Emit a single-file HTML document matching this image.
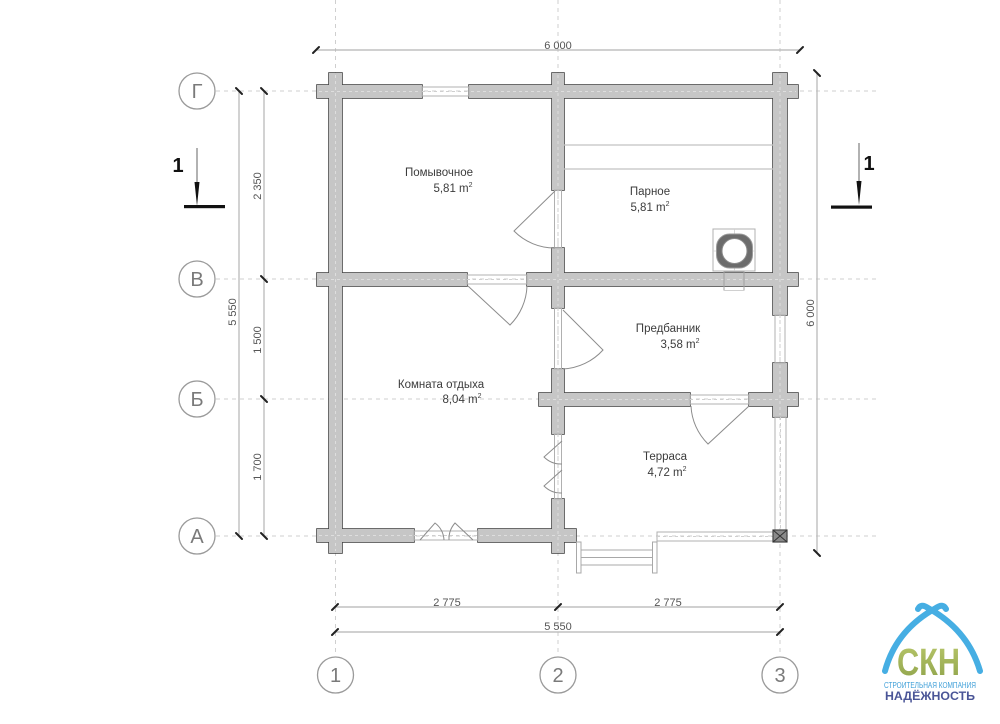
<!DOCTYPE html>
<html><head><meta charset="utf-8"><style>
html,body{margin:0;padding:0;background:#fff;}
svg{display:block;}
text{font-family:"Liberation Sans","DejaVu Sans",sans-serif;}
</style></head><body>
<svg width="1000" height="724" viewBox="0 0 1000 724" xmlns="http://www.w3.org/2000/svg">
<rect width="1000" height="724" fill="#fff"/>
<!-- axis dashed lines -->
<g stroke="#cfcfcf" stroke-width="1" stroke-dasharray="4 4" fill="none">
<line x1="216" y1="91" x2="880" y2="91"/>
<line x1="216" y1="279" x2="880" y2="279"/>
<line x1="216" y1="399" x2="880" y2="399"/>
<line x1="216" y1="536" x2="880" y2="536"/>
<line x1="335.5" y1="0" x2="335.5" y2="656"/>
<line x1="558" y1="0" x2="558" y2="656"/>
<line x1="780" y1="0" x2="780" y2="656"/>
</g>
<!-- dimension lines -->
<g stroke="#b5b5b5" stroke-width="1.2" fill="none">
<line x1="316" y1="50" x2="800" y2="50"/>
<line x1="817" y1="73" x2="817" y2="553"/>
<line x1="239" y1="91" x2="239" y2="536"/>
<line x1="264" y1="91" x2="264" y2="536"/>
<line x1="335" y1="607" x2="780" y2="607"/>
<line x1="335" y1="632" x2="780" y2="632"/>
</g>
<g stroke="#222" stroke-width="2" stroke-linecap="round">
<line x1="313" y1="53" x2="319" y2="47"/>
<line x1="797" y1="53" x2="803" y2="47"/>
<line x1="814" y1="70" x2="820" y2="76"/>
<line x1="814" y1="550" x2="820" y2="556"/>
<line x1="236" y1="88" x2="242" y2="94"/>
<line x1="236" y1="533" x2="242" y2="539"/>
<line x1="261" y1="88" x2="267" y2="94"/>
<line x1="261" y1="276" x2="267" y2="282"/>
<line x1="261" y1="396" x2="267" y2="402"/>
<line x1="261" y1="533" x2="267" y2="539"/>
<line x1="332" y1="610" x2="338" y2="604"/>
<line x1="555" y1="610" x2="561" y2="604"/>
<line x1="777" y1="610" x2="783" y2="604"/>
<line x1="332" y1="635" x2="338" y2="629"/>
<line x1="777" y1="635" x2="783" y2="629"/>
</g>
<g fill="#555" font-size="11" text-anchor="middle">
<text x="558" y="49">6 000</text>
<text x="447" y="606">2 775</text>
<text x="668" y="606">2 775</text>
<text x="558" y="630">5 550</text>
<text transform="translate(236,312) rotate(-90)" dominant-baseline="auto">5 550</text>
<text transform="translate(261,186) rotate(-90)">2 350</text>
<text transform="translate(261,340) rotate(-90)">1 500</text>
<text transform="translate(261,467) rotate(-90)">1 700</text>
<text transform="translate(814,313) rotate(-90)">6 000</text>
</g>
<!-- axis circles -->
<g fill="#fff" stroke="#9a9a9a" stroke-width="1.3">
<circle cx="197" cy="91" r="18"/>
<circle cx="197" cy="279" r="18"/>
<circle cx="197" cy="399" r="18"/>
<circle cx="197" cy="536" r="18"/>
<circle cx="335.5" cy="675" r="18"/>
<circle cx="558" cy="675" r="18"/>
<circle cx="780" cy="675" r="18"/>
</g>
<g fill="#7a7a7a" font-size="20" text-anchor="middle">
<text x="197" y="98">Г</text>
<text x="197" y="286">В</text>
<text x="197" y="406">Б</text>
<text x="197" y="543">А</text>
<text x="335.5" y="682">1</text>
<text x="558" y="682">2</text>
<text x="780" y="682">3</text>
</g>
<!-- section marks -->
<g stroke="#666" stroke-width="1">
<line x1="197" y1="148" x2="197" y2="200"/>
<line x1="859" y1="143" x2="859" y2="200"/>
</g>
<polygon points="194.5,182 199.5,182 197,206" fill="#111"/>
<polygon points="856.5,181 861.5,181 859,205" fill="#111"/>
<rect x="184" y="205" width="41" height="3.2" fill="#111"/>
<rect x="831" y="205.5" width="41" height="3.2" fill="#111"/>
<text x="178" y="172" font-size="20" font-weight="bold" fill="#111" text-anchor="middle">1</text>
<text x="869" y="170" font-size="20" font-weight="bold" fill="#111" text-anchor="middle">1</text>

<!-- walls: stroked pass -->
<g fill="#c6c6c6" stroke="#474747" stroke-width="1.6">
<rect x="317" y="85" width="105" height="13"/>
<rect x="469" y="85" width="329" height="13"/>
<rect x="317" y="273" width="150" height="13"/>
<rect x="527" y="273" width="271" height="13"/>
<rect x="539" y="393" width="151" height="13"/>
<rect x="749" y="393" width="49" height="13"/>
<rect x="317" y="529" width="97" height="13"/>
<rect x="478" y="529" width="98" height="13"/>
<rect x="329" y="73" width="13" height="480"/>
<rect x="552" y="73" width="12" height="117"/>
<rect x="552" y="248" width="12" height="60"/>
<rect x="552" y="369" width="12" height="65"/>
<rect x="552" y="499" width="12" height="54"/>
<rect x="773" y="73" width="14" height="242"/>
<rect x="773" y="363" width="14" height="54"/>
</g>
<!-- walls: fill pass to hide inner joints -->
<g fill="#c6c6c6">
<rect x="317" y="85" width="105" height="13"/>
<rect x="469" y="85" width="329" height="13"/>
<rect x="317" y="273" width="150" height="13"/>
<rect x="527" y="273" width="271" height="13"/>
<rect x="539" y="393" width="151" height="13"/>
<rect x="749" y="393" width="49" height="13"/>
<rect x="317" y="529" width="97" height="13"/>
<rect x="478" y="529" width="98" height="13"/>
<rect x="329" y="73" width="13" height="480"/>
<rect x="552" y="73" width="12" height="117"/>
<rect x="552" y="248" width="12" height="60"/>
<rect x="552" y="369" width="12" height="65"/>
<rect x="552" y="499" width="12" height="54"/>
<rect x="773" y="73" width="14" height="242"/>
<rect x="773" y="363" width="14" height="54"/>
</g>
<!-- wall centre dotted lines -->
<g stroke="#dedede" stroke-width="1" stroke-dasharray="3 3">
<line x1="319" y1="91.5" x2="420" y2="91.5"/>
<line x1="471" y1="91.5" x2="796" y2="91.5"/>
<line x1="319" y1="279.5" x2="465" y2="279.5"/>
<line x1="529" y1="279.5" x2="796" y2="279.5"/>
<line x1="541" y1="399.5" x2="688" y2="399.5"/>
<line x1="751" y1="399.5" x2="796" y2="399.5"/>
<line x1="319" y1="535.5" x2="412" y2="535.5"/>
<line x1="480" y1="535.5" x2="574" y2="535.5"/>
<line x1="335.5" y1="75" x2="335.5" y2="551"/>
<line x1="558" y1="75" x2="558" y2="188"/>
<line x1="558" y1="250" x2="558" y2="306"/>
<line x1="558" y1="371" x2="558" y2="432"/>
<line x1="558" y1="501" x2="558" y2="551"/>
<line x1="780" y1="75" x2="780" y2="313"/>
<line x1="780" y1="365" x2="780" y2="415"/>
</g>
<!-- openings frames -->
<g fill="none" stroke="#b0b0b0" stroke-width="1">
<rect x="422" y="87" width="47" height="9"/>
<rect x="554.5" y="190" width="7" height="58"/>
<rect x="467" y="275" width="60" height="9"/>
<rect x="554.5" y="308" width="7" height="61"/>
<rect x="690" y="395" width="59" height="9"/>
<rect x="554.5" y="434" width="7" height="65"/>
<rect x="414" y="531" width="64" height="9"/>
<rect x="775" y="315" width="10" height="48"/>
<rect x="775" y="417" width="11" height="113"/>
<rect x="657" y="532" width="116" height="9"/>
</g>
<g stroke="#cfcfcf" stroke-width="1" stroke-dasharray="3 3">
<line x1="422" y1="91.5" x2="469" y2="91.5"/>
<line x1="558" y1="190" x2="558" y2="248"/>
<line x1="467" y1="279.5" x2="527" y2="279.5"/>
<line x1="558" y1="308" x2="558" y2="369"/>
<line x1="690" y1="399.5" x2="749" y2="399.5"/>
<line x1="558" y1="434" x2="558" y2="499"/>
<line x1="414" y1="535.5" x2="478" y2="535.5"/>
<line x1="780" y1="315" x2="780" y2="363"/>
<line x1="780.5" y1="417" x2="780.5" y2="530"/>
<line x1="657" y1="536.5" x2="773" y2="536.5"/>
</g>
<!-- terrace post -->
<rect x="773" y="530" width="14" height="12" fill="#8a8a8a" stroke="#444" stroke-width="1.2"/>
<path d="M773 530 L787 542 M787 530 L773 542" stroke="#333" stroke-width="1"/>
<!-- steps -->
<g fill="none" stroke="#a8a8a8" stroke-width="1">
<rect x="576.5" y="542" width="4.5" height="31"/>
<rect x="652.5" y="542" width="4.5" height="31"/>
<line x1="581" y1="550" x2="652.5" y2="550"/>
<line x1="581" y1="557.5" x2="652.5" y2="557.5"/>
<line x1="581" y1="565" x2="652.5" y2="565"/>
</g>
<!-- bench lines -->
<g stroke="#c2c2c2" stroke-width="1.3">
<line x1="564" y1="145" x2="773" y2="145"/>
<line x1="564" y1="169" x2="773" y2="169"/>
</g>
<!-- doors -->
<g fill="none" stroke="#8c8c8c" stroke-width="1">
<path d="M555 191 L514 231 A57 57 0 0 0 555 248"/>
<path d="M468 286 L510 325 A58 58 0 0 0 527 286"/>
<path d="M563 310 L603 350 A58 58 0 0 1 563 369"/>
<path d="M749 406 L708 444 A57 57 0 0 1 691 406"/>
<path d="M562 441 L544 457 A24 24 0 0 0 562 464"/>
<path d="M562 470 L544 486 A24 24 0 0 0 562 493"/>
<path d="M420 540 L435 523 A23 23 0 0 1 444 540"/>
<path d="M473 540 L455 523 A24 24 0 0 0 449 540"/>
</g>
<!-- stove & chimney -->
<rect x="713" y="229" width="42" height="42" fill="none" stroke="#b0b0b0" stroke-width="1"/>
<line x1="713" y1="251" x2="755" y2="251" stroke="#d0d0d0" stroke-width="0.8"/>
<line x1="734.5" y1="229" x2="734.5" y2="271" stroke="#d0d0d0" stroke-width="0.8"/>
<rect x="716.5" y="234" width="36" height="34" rx="13" fill="#6c6c6c" stroke="#9a9a9a" stroke-width="1"/>
<circle cx="734.5" cy="251" r="12.5" fill="#fff" stroke="#8a8a8a" stroke-width="1"/>
<rect x="724" y="272" width="20" height="18" fill="none" stroke="#a0a0a0" stroke-width="1"/>
<rect x="724.5" y="287" width="19" height="3" fill="#fff"/>
<!-- room labels -->
<g fill="#3c3c3c" font-size="11.5" text-anchor="middle">
<text x="439" y="176">Помывочное</text>
<text x="453" y="192">5,81 m<tspan font-size="7" dy="-5">2</tspan></text>
<text x="650" y="195">Парное</text>
<text x="650" y="211">5,81 m<tspan font-size="7" dy="-5">2</tspan></text>
<text x="668" y="332">Предбанник</text>
<text x="680" y="348">3,58 m<tspan font-size="7" dy="-5">2</tspan></text>
<text x="441" y="388">Комната отдыха</text>
<text x="462" y="403">8,04 m<tspan font-size="7" dy="-5">2</tspan></text>
<text x="665" y="460">Терраса</text>
<text x="667" y="476">4,72 m<tspan font-size="7" dy="-5">2</tspan></text>
</g>
<!-- logo -->
<defs>
<linearGradient id="gr" x1="0" y1="0" x2="0" y2="1">
<stop offset="0" stop-color="#b7c66a"/>
<stop offset="1" stop-color="#8ea24a"/>
</linearGradient>
</defs>
<g fill="none" stroke="#46aee3" stroke-linecap="round">
<path d="M946 609 Q943 603 936 608 Q896 630 885 671" stroke-width="6"/>
<path d="M918 609 Q921 603 928 608 Q968 630 980 671" stroke-width="6"/>
</g>
<text x="897" y="675" font-size="38" font-weight="bold" fill="url(#gr)" textLength="63" lengthAdjust="spacingAndGlyphs">СКН</text>
<text x="884" y="688" font-size="8" fill="#3e9fd8" textLength="92" lengthAdjust="spacingAndGlyphs">СТРОИТЕЛЬНАЯ КОМПАНИЯ</text>
<text x="885" y="700" font-size="12" font-weight="bold" fill="#4a5597" textLength="90" lengthAdjust="spacingAndGlyphs">НАДЁЖНОСТЬ</text>
</svg>
</body></html>
